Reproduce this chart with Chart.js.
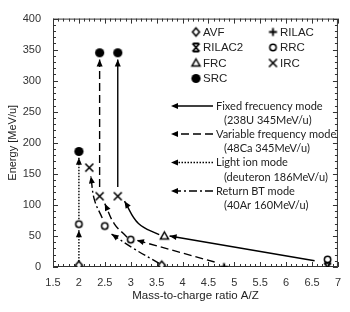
<!DOCTYPE html>
<html>
<head>
<meta charset="utf-8">
<script src="https://cdn.jsdelivr.net/npm/chart.js@4/dist/chart.umd.min.js"></script>
<style>
  html, body { margin: 0; padding: 0; background: #fff; }
  #wrap { width: 350px; height: 312px; }
</style>
</head>
<body>
<div id="wrap"><canvas id="chart" width="350" height="312"></canvas></div>
<script>
// --- Data (A/Z, MeV/u) ---
const avfX = [2, 3.6];
const avfY = [3, 3];
const rilacX = [4.8];
const rilacY = [0];
const rilac2X = [6.8];
const rilac2Y = [0];
const rrcX = [2, 2.5, 3.0, 6.8];
const rrcY = [69, 66, 44, 12];
const frcX = [3.65];
const frcY = [50];
const ircX = [2.2, 2.4, 2.75];
const ircY = [160, 114, 114];
const srcX = [2, 2.4, 2.75];
const srcY = [186, 345, 345];

// acceleration paths, one inner array per arrow
const fixedX = [[6.55, 3.75], [3.55, 3.15, 2.88], [2.75, 2.75]];
const fixedY = [[10, 50], [52, 70, 106], [129, 334]];
const variableX = [[4.62, 3.12], [2.93, 2.68, 2.5], [2.4, 2.4]];
const variableY = [[8, 43], [48, 70, 102], [129, 334]];
const lightX = [[2, 2], [2, 2]];
const lightY = [[9, 59], [77, 176]];
const returnX = [[3.55, 3.05, 2.63], [2.45, 2.3, 2.23]];
const returnY = [[6, 30, 53], [79, 108, 146]];

const symbolLabels = ['AVF', 'RILAC', 'RILAC2', 'RRC', 'FRC', 'IRC', 'SRC'];
const modeLabels = [
    ['Fixed frecuency mode', '(238U 345MeV/u)'],
    ['Variable frequency mode', '(48Ca 345MeV/u)'],
    ['Light ion mode', '(deuteron 186MeV/u)'],
    ['Return BT mode', '(40Ar 160MeV/u)']
];

// --- Symbols ---
function makeSymbol(kind) {
    const s = 13, c = document.createElement('canvas');
    c.width = s; c.height = s;
    const g = c.getContext('2d');
    const m = s / 2;
    g.strokeStyle = '#000';
    g.fillStyle = '#fff';
    g.lineWidth = 1.5;
    g.beginPath();
    switch (kind) {
        case 'diamond':
            g.moveTo(m, m - 4); g.lineTo(m + 3.5, m); g.lineTo(m, m + 4); g.lineTo(m - 3.5, m); g.closePath();
            g.fill(); g.stroke(); break;
        case 'plus':
            g.moveTo(m - 4, m); g.lineTo(m + 4, m); g.moveTo(m, m - 4); g.lineTo(m, m + 4);
            g.lineWidth = 1.8; g.stroke(); break;
        case 'bowtie':
            g.moveTo(m - 3.5, m - 4); g.lineTo(m + 3.5, m + 4);
            g.moveTo(m + 3.5, m - 4); g.lineTo(m - 3.5, m + 4);
            g.moveTo(m - 3, m - 4); g.lineTo(m + 3, m - 4);
            g.moveTo(m - 3, m + 4); g.lineTo(m + 3, m + 4);
            g.lineWidth = 1.8; g.stroke(); break;
        case 'circle':
            g.arc(m, m, 3.2, 0, 2 * Math.PI); g.fill(); g.stroke(); break;
        case 'triangle':
            g.moveTo(m, m - 4); g.lineTo(m + 4, m + 3); g.lineTo(m - 4, m + 3); g.closePath();
            g.fill(); g.stroke(); break;
        case 'cross':
            g.moveTo(m - 4, m - 4); g.lineTo(m + 4, m + 4); g.moveTo(m + 4, m - 4); g.lineTo(m - 4, m + 4);
            g.lineWidth = 1.6; g.stroke(); break;
        case 'dot':
            g.fillStyle = '#000'; g.arc(m, m, 4.6, 0, 2 * Math.PI); g.fill(); break;
    }
    return c;
}
const symbolKinds = ['diamond', 'plus', 'bowtie', 'circle', 'triangle', 'cross', 'dot'];
const symbols = symbolKinds.map(makeSymbol);

const toPts = (xs, ys) => xs.map((x, i) => ({ x, y: ys[i] }));

// --- Datasets ---
const datasets = [];
function addPaths(xs, ys, dash) {
    xs.forEach((seg, i) => {
        datasets.push({
            data: toPts(seg, ys[i]),
            showLine: true,
            borderColor: '#000',
            borderWidth: 1.4,
            borderDash: dash,
            tension: seg.length > 2 ? 0.4 : 0,
            pointRadius: 0,
            arrow: true,
            order: 2
        });
    });
}
addPaths(fixedX, fixedY, []);
addPaths(variableX, variableY, [8, 4]);
addPaths(lightX, lightY, [1.5, 1.5]);
addPaths(returnX, returnY, [8, 3, 2, 3]);

const seriesX = [avfX, rilacX, rilac2X, rrcX, frcX, ircX, srcX];
const seriesY = [avfY, rilacY, rilac2Y, rrcY, frcY, ircY, srcY];
seriesX.forEach((xs, i) => {
    datasets.push({
        label: symbolLabels[i],
        data: toPts(xs, seriesY[i]),
        pointStyle: symbols[i],
        pointRadius: 5,
        showLine: false,
        order: 1
    });
});

// --- Plugins ---
const frameAndTicks = {
    id: 'frameAndTicks',
    beforeDatasetsDraw(chart) {
        const { ctx, chartArea: a, scales: { x, y } } = chart;
        ctx.save();
        ctx.strokeStyle = '#333';
        ctx.lineWidth = 1;
        ctx.strokeRect(a.left + 0.5, a.top + 0.5, a.right - a.left - 1, a.bottom - a.top - 1);
        ctx.beginPath();
        for (let i = 15; i <= 70; i++) {
            const px = Math.round(x.getPixelForValue(i / 10)) + 0.5;
            const len = i % 5 === 0 ? 5 : 3;
            ctx.moveTo(px, a.bottom); ctx.lineTo(px, a.bottom - len);
            ctx.moveTo(px, a.top); ctx.lineTo(px, a.top + len);
        }
        for (let j = 0; j <= 40; j++) {
            const py = Math.round(y.getPixelForValue(j * 10)) + 0.5;
            const len = j % 5 === 0 ? 5 : 3;
            ctx.moveTo(a.left, py); ctx.lineTo(a.left + len, py);
            ctx.moveTo(a.right, py); ctx.lineTo(a.right - len, py);
        }
        ctx.stroke();
        ctx.restore();
    }
};

function drawArrowHead(ctx, fromX, fromY, tipX, tipY) {
    const ang = Math.atan2(tipY - fromY, tipX - fromX);
    const len = 7, half = 3;
    ctx.beginPath();
    ctx.moveTo(tipX, tipY);
    ctx.lineTo(tipX - len * Math.cos(ang) + half * Math.sin(ang), tipY - len * Math.sin(ang) - half * Math.cos(ang));
    ctx.lineTo(tipX - len * Math.cos(ang) - half * Math.sin(ang), tipY - len * Math.sin(ang) + half * Math.cos(ang));
    ctx.closePath();
    ctx.fill();
}

const arrows = {
    id: 'arrows',
    afterDatasetsDraw(chart) {
        const ctx = chart.ctx;
        ctx.save();
        ctx.fillStyle = '#000';
        chart.data.datasets.forEach((ds, i) => {
            if (!ds.arrow) return;
            const pts = chart.getDatasetMeta(i).data;
            const tip = pts[pts.length - 1];
            let from = pts[pts.length - 2];
            let fx = from.x, fy = from.y;
            if (tip.cp1x !== undefined && Math.hypot(tip.cp1x - tip.x, tip.cp1y - tip.y) > 2) {
                fx = tip.cp1x; fy = tip.cp1y;
            }
            drawArrowHead(ctx, fx, fy, tip.x, tip.y);
        });
        ctx.restore();
    }
};

const customLegend = {
    id: 'customLegend',
    afterDraw(chart) {
        const ctx = chart.ctx;
        ctx.save();
        // symbol legend, two columns
        ctx.font = '11.5px "Liberation Sans", Arial, sans-serif';
        ctx.fillStyle = '#222';
        ctx.textBaseline = 'middle';
        symbolLabels.forEach((lab, i) => {
            const col = i % 2, row = Math.floor(i / 2);
            const sx = col === 0 ? 196 : 273;
            const sy = 32 + row * 15.5;
            ctx.drawImage(symbols[i], sx - 6.5, sy - 6.5);
            ctx.fillText(lab, sx + 7, sy + 0.5);
        });
        // mode legend
        const dashes = [[], [8, 4], [1.5, 1.5], [8, 3, 2, 3]];
        const rowY = [106, 134, 162.5, 191];
        ctx.font = '11px Lato, "Open Sans", sans-serif';
        modeLabels.forEach((lines, i) => {
            const y = rowY[i];
            ctx.strokeStyle = '#000';
            ctx.lineWidth = 1.4;
            ctx.setLineDash(dashes[i]);
            ctx.beginPath();
            ctx.moveTo(213, y);
            ctx.lineTo(174, y);
            ctx.stroke();
            ctx.setLineDash([]);
            ctx.fillStyle = '#000';
            drawArrowHead(ctx, 213, y, 171, y);
            ctx.fillStyle = '#222';
            ctx.fillText(lines[0], 216, y);
            ctx.fillText(lines[1], 224, y + 14.5);
        });
        ctx.restore();
    }
};

const tickFont = { family: '"Liberation Sans", Arial, sans-serif', size: 11 };

new Chart(document.getElementById('chart'), {
    type: 'scatter',
    data: { datasets },
    options: {
        responsive: false,
        animation: false,
        layout: { padding: { top: 13, right: 8, left: 0, bottom: 0 } },
        plugins: { legend: { display: false }, tooltip: { enabled: false } },
        scales: {
            x: {
                type: 'linear', min: 1.5, max: 7,
                afterFit: s => { s.height = 45; },
                grid: { display: false, drawTicks: false },
                border: { display: false },
                ticks: { stepSize: 0.5, padding: 9, color: '#333', font: tickFont, maxRotation: 0,
                         callback: v => String(v) },
                title: { display: true, text: 'Mass-to-charge ratio A/Z', color: '#222',
                         font: { family: '"Liberation Sans", Arial, sans-serif', size: 11.5 },
                         padding: { top: 0, bottom: 9 } }
            },
            y: {
                type: 'linear', min: 0, max: 400,
                afterFit: s => { s.width = 53; },
                grid: { display: false, drawTicks: false },
                border: { display: false },
                ticks: { stepSize: 50, padding: 12, color: '#333', font: tickFont },
                title: { display: true, text: 'Energy [MeV/u]', color: '#222',
                         font: { family: '"Liberation Sans", Arial, sans-serif', size: 11 },
                         padding: { top: 6, bottom: 0 } }
            }
        }
    },
    plugins: [frameAndTicks, arrows, customLegend]
});
</script>
</body>
</html>
